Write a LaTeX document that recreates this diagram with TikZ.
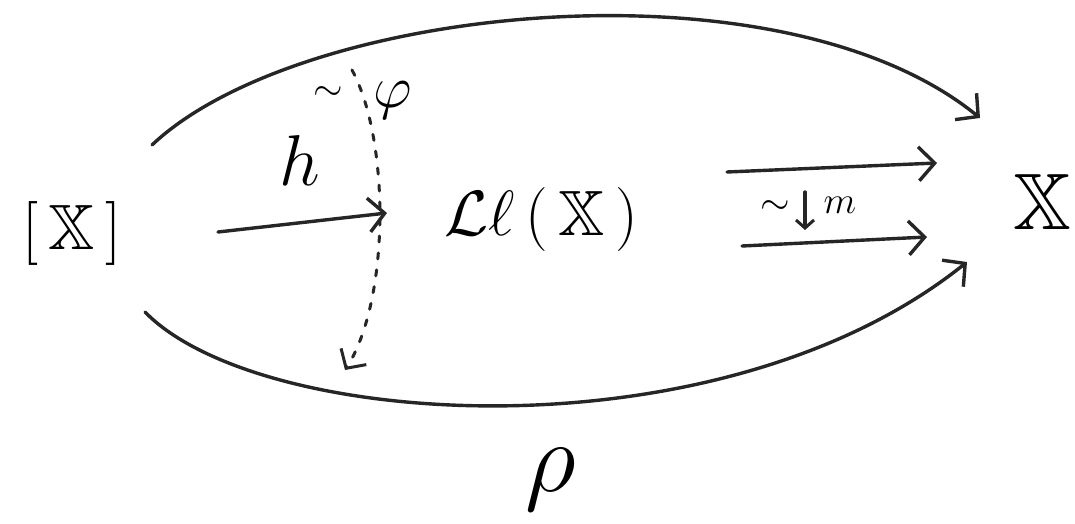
\RequirePackage{fix-cm}
\documentclass[tikz,border=0pt]{standalone}
\usepackage{amssymb}
\usetikzlibrary{arrows.meta}
\begin{document}
\begin{tikzpicture}[x=1pt,y=-1pt,
  stroke/.style={line width=3.4pt, line cap=round, black!85},
  arr/.style={stroke, -{Straight Barb[length=16pt,width=34pt,line width=3.4pt]}},
  dotarr/.style={line width=3pt, line cap=round, black!85, dash pattern=on 6pt off 11pt,
     -{Straight Barb[length=14pt,width=30pt,line width=3pt]}},
  obj/.style={inner sep=0pt, font=\fontsize{64}{72}\selectfont},
  lbl/.style={inner sep=0pt, font=\fontsize{60}{66}\selectfont},
  small/.style={inner sep=0pt, font=\fontsize{38}{42}\selectfont}]
\useasboundingbox (0,0) rectangle (1075,524);
\fill[white] (0,0) rectangle (1075,524);
% objects
\node[obj] (A) at (72,233) {$[\,\mathbb{X}\,]$};
\node[obj] (L) at (541,220) {$\mathcal{L}\ell\,(\,\mathbb{X}\,)$};
\node[obj, font=\fontsize{80}{88}\selectfont] (X) at (1042,202) {$\mathbb{X}$};
% connector end points
\coordinate (hS) at (218,232);
\coordinate (hE) at (387,213);
\coordinate (tS) at (152,145);
\coordinate (tE) at (980,118);
\coordinate (bS) at (145,312);
\coordinate (bE) at (967,262);
\coordinate (p1S) at (727,172);
\coordinate (p1E) at (937,163);
\coordinate (p2S) at (742,246);
\coordinate (p2E) at (927,237);
\coordinate (fS) at (352,70);
\coordinate (fE) at (345,370);
\coordinate (mS) at (805,192);
\coordinate (mE) at (805,230);
% arrows
\draw[arr] (hS) -- (hE);
\draw[arr] (tS) .. controls (300,5) and (780,-45) .. (tE);
\draw[arr] (bS) .. controls (260,430) and (720,460) .. (bE);
\draw[arr] (p1S) -- (p1E);
\draw[arr] (p2S) -- (p2E);
\draw[dotarr] (fS) .. controls (390,140) and (390,300) .. (fE);
\draw[stroke, -{Straight Barb[length=8pt,width=18pt,line width=3pt]}] (mS) -- (mE);
% labels
\node[lbl, font=\fontsize{72}{80}\selectfont] (h) at (300,160) {$h$};
\node[small] (t1) at (328,94) {$\sim$};
\node[lbl] (phi) at (393,100) {$\varphi$};
\node[small] (t2) at (775,208) {$\sim$};
\node[small] (m) at (840,205) {$m$};
\node[lbl, font=\fontsize{100}{110}\selectfont] (rho) at (551,480) {$\rho$};
\end{tikzpicture}
\end{document}
